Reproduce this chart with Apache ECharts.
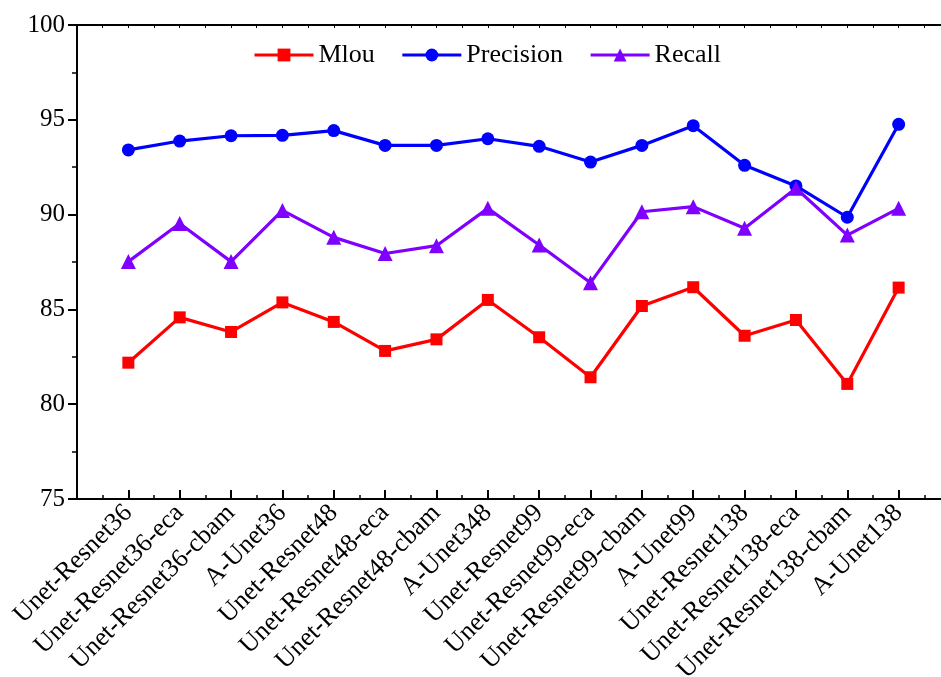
<!DOCTYPE html>
<html>
<head>
<meta charset="utf-8">
<script src="https://cdn.jsdelivr.net/npm/echarts@6/dist/echarts.min.js"></script>
<style>
  html, body { margin: 0; padding: 0; background: #fff; }
  #chart { width: 941px; height: 677px; }
</style>
</head>
<body>
<div id="chart"></div>
<script>
// Model names along the x axis
const categories = [
  'Unet-Resnet36', 'Unet-Resnet36-eca', 'Unet-Resnet36-cbam', 'A-Unet36',
  'Unet-Resnet48', 'Unet-Resnet48-eca', 'Unet-Resnet48-cbam', 'A-Unet348',
  'Unet-Resnet99', 'Unet-Resnet99-eca', 'Unet-Resnet99-cbam', 'A-Unet99',
  'Unet-Resnet138', 'Unet-Resnet138-eca', 'Unet-Resnet138-cbam', 'A-Unet138'
];

// Metric values (%) per model
const mlou = [82.19, 84.58, 83.81, 85.37, 84.34, 82.81, 83.42, 85.50,
              83.53, 81.42, 85.18, 86.17, 83.61, 84.44, 81.07, 86.15];
const precision = [93.41, 93.88, 94.16, 94.18, 94.43, 93.65, 93.65, 94.00,
                   93.60, 92.77, 93.65, 94.69, 92.60, 91.51, 89.86, 94.76];
const recall = [87.52, 89.53, 87.52, 90.22, 88.80, 87.95, 88.36, 90.33,
                88.40, 86.41, 90.15, 90.42, 89.28, 91.39, 88.92, 90.33];

// Y axis ticks
const yTicks = [75, 80, 85, 90, 95, 100];

const FONT = "'Liberation Serif', 'Times New Roman', serif";

// Models sit at positions 1..N on a numeric x scale, with one empty step at each end
const X_MAX = categories.length + 1;
const toPoints = arr => arr.map((v, i) => [i + 1, v]);

const chart = echarts.init(document.getElementById('chart'), null, { renderer: 'canvas' });

chart.setOption({
  backgroundColor: '#ffffff',
  animation: false,
  grid: {
    left: 77, top: 25, width: 873, height: 474,
    containLabel: false,
    outerBoundsMode: 'none'
  },
  legend: {
    left: 253,
    top: 42,
    padding: 0,
    itemWidth: 59,
    itemHeight: 16,
    itemGap: 26,
    lineStyle: { width: 3 },
    textStyle: { fontFamily: FONT, fontSize: 26, color: '#000' },
    data: ['Mlou', 'Precision', 'Recall']
  },
  xAxis: [
    {
      type: 'value',
      position: 'bottom',
      min: 0,
      max: X_MAX,
      interval: 1,
      axisLine: { lineStyle: { color: '#000', width: 2 } },
      axisTick: { inside: true, length: 9, lineStyle: { color: '#000', width: 2 } },
      minorTick: { show: true, splitNumber: 2, length: 4, lineStyle: { color: '#000', width: 1.5 } },
      splitLine: { show: false },
      axisLabel: {
        rotate: 45,
        margin: 10,
        fontFamily: FONT,
        fontSize: 26,
        color: '#000',
        formatter: v => categories[v - 1] || ''
      }
    },
    {
      type: 'value',
      position: 'top',
      min: 0,
      max: X_MAX,
      interval: 0.5,
      axisLine: { show: true, lineStyle: { color: '#000', width: 2 } },
      axisTick: { inside: true, length: 3, lineStyle: { color: '#000', width: 1 } },
      axisLabel: { show: false },
      splitLine: { show: false }
    }
  ],
  yAxis: {
    type: 'value',
    min: yTicks[0],
    max: yTicks[yTicks.length - 1],
    interval: 5,
    axisLine: { show: true, lineStyle: { color: '#000', width: 2 } },
    axisTick: { show: true, inside: false, length: 9, lineStyle: { color: '#000', width: 2 } },
    minorTick: { show: true, splitNumber: 2, length: 5, lineStyle: { color: '#000', width: 1.5 } },
    splitLine: { show: false },
    axisLabel: { margin: 12, fontFamily: FONT, fontSize: 25, color: '#000' }
  },
  series: [
    {
      name: 'Mlou',
      type: 'line',
      data: toPoints(mlou),
      symbol: 'rect',
      symbolSize: 12,
      lineStyle: { color: '#ff0000', width: 3.2 },
      itemStyle: { color: '#ff0000' }
    },
    {
      name: 'Precision',
      type: 'line',
      data: toPoints(precision),
      symbol: 'circle',
      symbolSize: 13,
      lineStyle: { color: '#0000ff', width: 3.2 },
      itemStyle: { color: '#0000ff' }
    },
    {
      name: 'Recall',
      type: 'line',
      data: toPoints(recall),
      symbol: 'triangle',
      symbolSize: 15,
      lineStyle: { color: '#8000ff', width: 3.2 },
      itemStyle: { color: '#8000ff' }
    }
  ]
});
</script>
</body>
</html>
